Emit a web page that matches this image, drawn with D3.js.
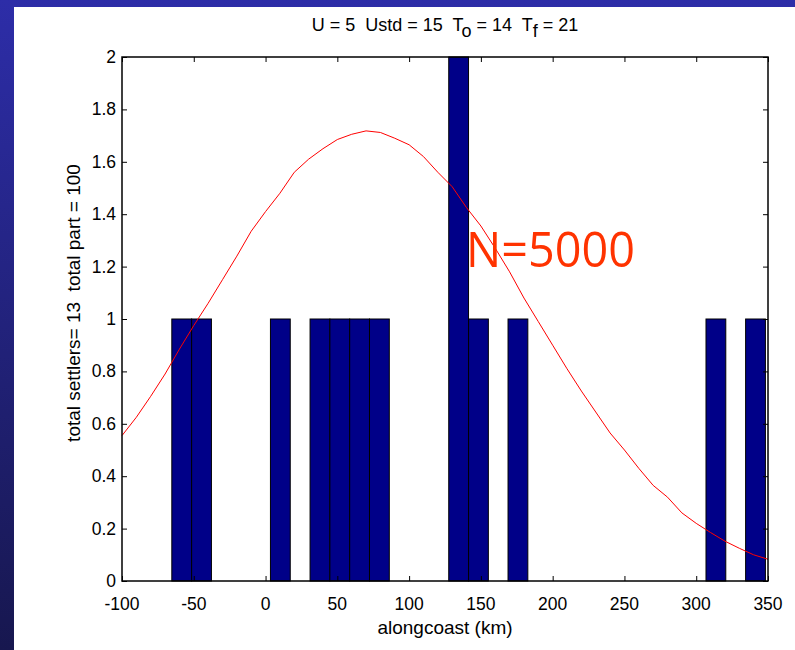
<!DOCTYPE html>
<html>
<head>
<meta charset="utf-8">
<script src="https://cdn.jsdelivr.net/npm/d3@7"></script>
<style>
  body { margin: 0; padding: 0; }
  svg text { font-family: "Liberation Sans", Arial, sans-serif; white-space: pre; }
</style>
</head>
<body>
<div id="chart"></div>
<script>
// histogram bins (bin centre in km, number of settlers)
var binWidth = 13.79;
var binCenters = [-58.4, -44.6, 10.3, 37.9, 51.7, 65.5, 79.3, 134.5, 148.3, 175.8, 313.7, 341.3];
var binCounts = [1, 1, 1, 1, 1, 1, 1, 2, 1, 1, 1, 1];

// red fitted curve
var curveX = [-100, -90, -80, -70, -60, -50, -40, -30, -20, -10, 0, 10, 20, 30, 40, 50, 60, 70, 80, 90,
  100, 110, 120, 130, 140, 150, 160, 170, 180, 190, 200, 210, 220, 230, 240, 250, 260, 270, 280, 290,
  300, 310, 320, 330, 340, 350];
var curveY = [0.555, 0.625, 0.705, 0.79, 0.885, 0.975, 1.06, 1.15, 1.24, 1.335, 1.41, 1.48, 1.56, 1.61, 1.65, 1.685, 1.705, 1.718, 1.712, 1.69,
  1.665, 1.62, 1.56, 1.505, 1.425, 1.355, 1.27, 1.18, 1.08, 0.99, 0.90, 0.81, 0.725, 0.645, 0.565, 0.50, 0.43, 0.365, 0.32, 0.26,
  0.22, 0.185, 0.152, 0.125, 0.10, 0.083];

var xTicks = [-100, -50, 0, 50, 100, 150, 200, 250, 300, 350];
var yTicks = [0, 0.2, 0.4, 0.6, 0.8, 1, 1.2, 1.4, 1.6, 1.8, 2];

var width = 795;
var height = 650;
var plot = { left: 122, right: 768, top: 57, bottom: 581 };

var svg = d3.select("#chart").append("svg")
    .attr("width", width)
    .attr("height", height);

// slide background
var grad = svg.append("defs").append("linearGradient")
    .attr("id", "bg")
    .attr("x1", 0).attr("y1", 0).attr("x2", 0).attr("y2", 1);
grad.append("stop").attr("offset", "0%").attr("stop-color", "#2d2da8");
grad.append("stop").attr("offset", "100%").attr("stop-color", "#17174f");

svg.append("rect")
    .attr("width", width)
    .attr("height", height)
    .attr("fill", "url(#bg)");

svg.append("rect")
    .attr("x", 14)
    .attr("y", 7)
    .attr("width", width - 14)
    .attr("height", height - 7)
    .attr("fill", "#fff");

var xScale = d3.scaleLinear().domain([-100, 350]).range([plot.left, plot.right]);
var yScale = d3.scaleLinear().domain([0, 2]).range([plot.bottom, plot.top]);

// bars
svg.selectAll(".bar")
    .data(binCenters)
    .enter()
    .append("rect")
    .attr("class", "bar")
    .attr("x", d => xScale(d - binWidth / 2))
    .attr("y", (d, i) => yScale(binCounts[i]))
    .attr("width", d => xScale(d + binWidth / 2) - xScale(d - binWidth / 2))
    .attr("height", (d, i) => yScale(0) - yScale(binCounts[i]))
    .attr("fill", "#000088")
    .attr("stroke", "#000")
    .attr("stroke-width", 1);

// curve
var line = d3.line()
    .x((d, i) => xScale(curveX[i]))
    .y(d => yScale(d));

svg.append("path")
    .datum(curveY)
    .attr("d", line)
    .attr("fill", "none")
    .attr("stroke", "#ff0000")
    .attr("stroke-width", 1);

// axes, ticks pointing inward on all four sides
svg.append("g")
    .attr("transform", "translate(0," + plot.bottom + ")")
    .call(d3.axisTop(xScale).tickValues(xTicks).tickSize(5).tickFormat(""))
    .call(g => g.select(".domain").remove());

svg.append("g")
    .attr("transform", "translate(0," + plot.top + ")")
    .call(d3.axisBottom(xScale).tickValues(xTicks).tickSize(5).tickFormat(""))
    .call(g => g.select(".domain").remove());

svg.append("g")
    .attr("transform", "translate(" + plot.left + ",0)")
    .call(d3.axisRight(yScale).tickValues(yTicks).tickSize(5).tickFormat(""))
    .call(g => g.select(".domain").remove());

svg.append("g")
    .attr("transform", "translate(" + plot.right + ",0)")
    .call(d3.axisLeft(yScale).tickValues(yTicks).tickSize(5).tickFormat(""))
    .call(g => g.select(".domain").remove());

svg.append("rect")
    .attr("x", plot.left)
    .attr("y", plot.top)
    .attr("width", plot.right - plot.left)
    .attr("height", plot.bottom - plot.top)
    .attr("fill", "none")
    .attr("stroke", "#000")
    .attr("stroke-width", 1.5);

// tick labels
svg.selectAll(".xlab")
    .data(xTicks)
    .enter()
    .append("text")
    .attr("class", "xlab")
    .attr("x", d => xScale(d))
    .attr("y", 610)
    .attr("text-anchor", "middle")
    .style("font-size", "17.5px")
    .text(d => d);

svg.selectAll(".ylab")
    .data(yTicks)
    .enter()
    .append("text")
    .attr("class", "ylab")
    .attr("x", 116)
    .attr("y", d => yScale(d) + 6)
    .attr("text-anchor", "end")
    .style("font-size", "17.5px")
    .text(d => d);

// axis titles
svg.append("text")
    .attr("x", (plot.left + plot.right) / 2)
    .attr("y", 634)
    .attr("text-anchor", "middle")
    .style("font-size", "19px")
    .text("alongcoast (km)");

svg.append("text")
    .attr("transform", "translate(80," + 303 + ") rotate(-90)")
    .attr("text-anchor", "middle")
    .style("font-size", "19px")
    .text("total settlers= 13  total part = 100");

var title = svg.append("text")
    .attr("x", (plot.left + plot.right) / 2)
    .attr("y", 31)
    .attr("text-anchor", "middle")
    .style("font-size", "18px");
title.append("tspan").text("U = 5  Ustd = 15  T");
title.append("tspan").attr("dy", 6).text("o");
title.append("tspan").attr("dy", -6).text(" = 14  T");
title.append("tspan").attr("dy", 6).text("f");
title.append("tspan").attr("dy", -6).text(" = 21");

// annotation
svg.append("text")
    .attr("x", 466)
    .attr("y", 267)
    .style("font-family", "'Open Sans', 'Noto Sans', sans-serif")
    .style("font-size", "50px")
    .attr("fill", "#ff3300")
    .attr("textLength", 169)
    .attr("lengthAdjust", "spacingAndGlyphs")
    .text("N=5000");
</script>
</body>
</html>
